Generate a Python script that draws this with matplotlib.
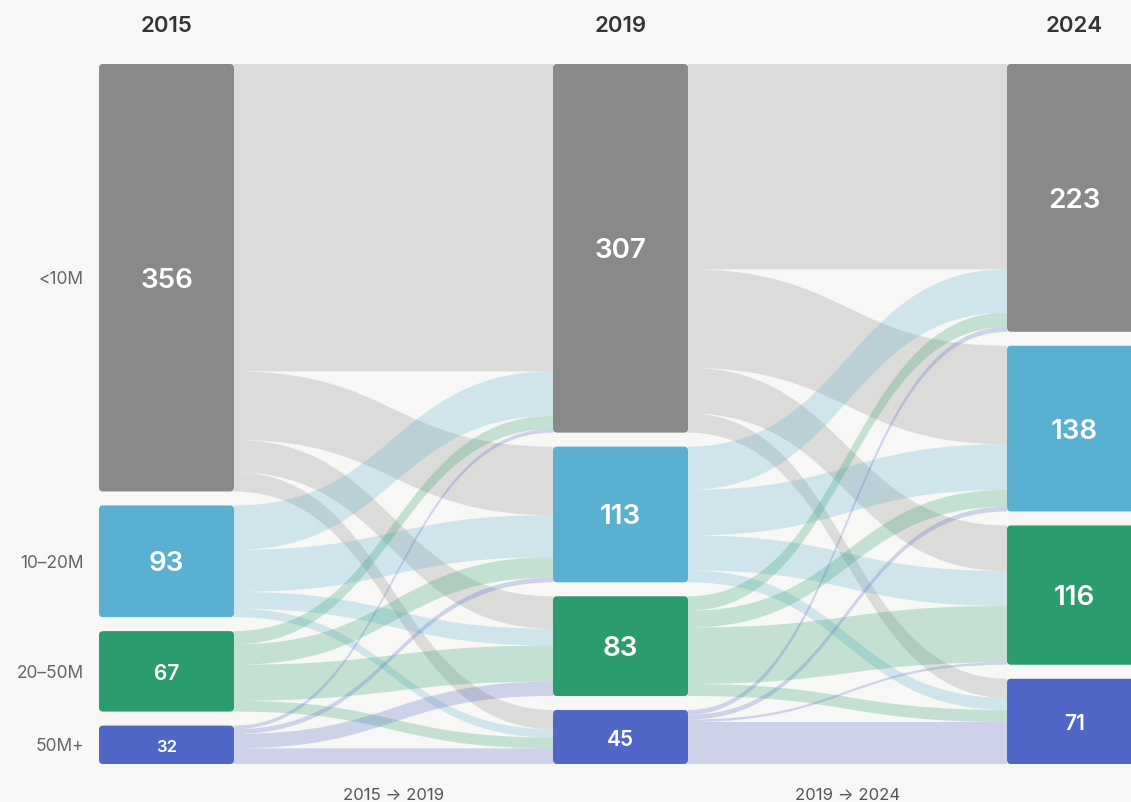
import matplotlib
matplotlib.use("Agg")
import matplotlib.pyplot as plt
import numpy as np
from matplotlib.path import Path
from matplotlib.patches import PathPatch, FancyBboxPatch

plt.rcParams['font.family'] = ['Inter', 'DejaVu Sans']

years = ['2015', '2019', '2024']
tiers = ['<10M', '10–20M', '20–50M', '50M+']
node_colors = ['#898989', '#5AB0D0', '#2A9C6E', '#5167C8']

totals_2015 = [356, 93, 67, 32]
totals_2019 = [307, 113, 83, 45]
totals_2024 = [223, 138, 116, 71]

# flows: rows = source tier, cols = target tier
flows_15_19 = [[256, 57, 27, 16],
               [37, 35, 14, 7],
               [11, 17, 30, 9],
               [3, 4, 12, 13]]
flows_19_24 = [[171, 82, 38, 16],
               [36, 38, 29, 10],
               [12, 14, 47, 10],
               [4, 4, 2, 35]]

transition_labels = ['2015 → 2019', '2019 → 2024']

W, H = 1131, 802
top, bottom, gap = 64, 764, 14
node_w = 135
col_x = [99, 553, 1007]
bg = '#F7F7F5'

columns = [totals_2015, totals_2019, totals_2024]
scale = (bottom - top - gap * (len(tiers) - 1)) / sum(totals_2015)

fig = plt.figure(figsize=(W / 100, H / 100), dpi=100, facecolor=bg)
ax = fig.add_axes([0, 0, 1, 1])
ax.set_xlim(0, W)
ax.set_ylim(H, 0)
ax.axis('off')
ax.set_facecolor(bg)

# node positions
node_top = []
for col in columns:
    y = top
    tops = []
    for v in col:
        tops.append(y)
        y += v * scale + gap
    node_top.append(tops)


def ribbon(x0, y0a, y0b, x1, y1a, y1b, color):
    xm = (x0 + x1) / 2
    verts = [(x0, y0a), (xm, y0a), (xm, y1a), (x1, y1a),
             (x1, y1b), (xm, y1b), (xm, y0b), (x0, y0b), (x0, y0a)]
    codes = [Path.MOVETO, Path.CURVE4, Path.CURVE4, Path.CURVE4,
             Path.LINETO, Path.CURVE4, Path.CURVE4, Path.CURVE4, Path.CLOSEPOLY]
    ax.add_patch(PathPatch(Path(verts, codes), facecolor=color, edgecolor='none',
                           alpha=0.25, zorder=1))


for k, fl in enumerate([flows_15_19, flows_19_24]):
    fl = np.array(fl)
    # target offsets ordered by source
    tgt_pos = {}
    for j in range(len(tiers)):
        y = node_top[k + 1][j]
        for i in range(len(tiers)):
            tgt_pos[(i, j)] = y
            y += fl[i, j] * scale
    for i in range(len(tiers)):
        y = node_top[k][i]
        for j in range(len(tiers)):
            h = fl[i, j] * scale
            ty = tgt_pos[(i, j)]
            ribbon(col_x[k] + node_w, y, y + h, col_x[k + 1], ty, ty + h, node_colors[i])
            y += h
    ax.text((col_x[k] + node_w + col_x[k + 1]) / 2, 795, transition_labels[k],
            ha='center', va='center', fontsize=12, color='#555555')

for c, col in enumerate(columns):
    for i, v in enumerate(col):
        y = node_top[c][i]
        h = v * scale
        ax.add_patch(FancyBboxPatch((col_x[c], y), node_w, h,
                                    boxstyle='round,pad=0,rounding_size=4',
                                    facecolor=node_colors[i], edgecolor='none', zorder=3))
        fs = 20 if v >= 80 else (15 if v >= 40 else 12)
        ax.text(col_x[c] + node_w / 2, y + h / 2 + 3, str(v), ha='center', va='center',
                fontsize=fs, fontweight='semibold', color='white', zorder=4)
    ax.text(col_x[c] + node_w / 2, 26, years[c], ha='center', va='center',
            fontsize=16, fontweight='semibold', color='#333333')

for i, t in enumerate(tiers):
    y = node_top[0][i] + totals_2015[i] * scale / 2
    ax.text(84, y + 2, t, ha='right', va='center', fontsize=12.5, color='#666666')

fig.savefig('out.png', dpi=100, facecolor=bg)
